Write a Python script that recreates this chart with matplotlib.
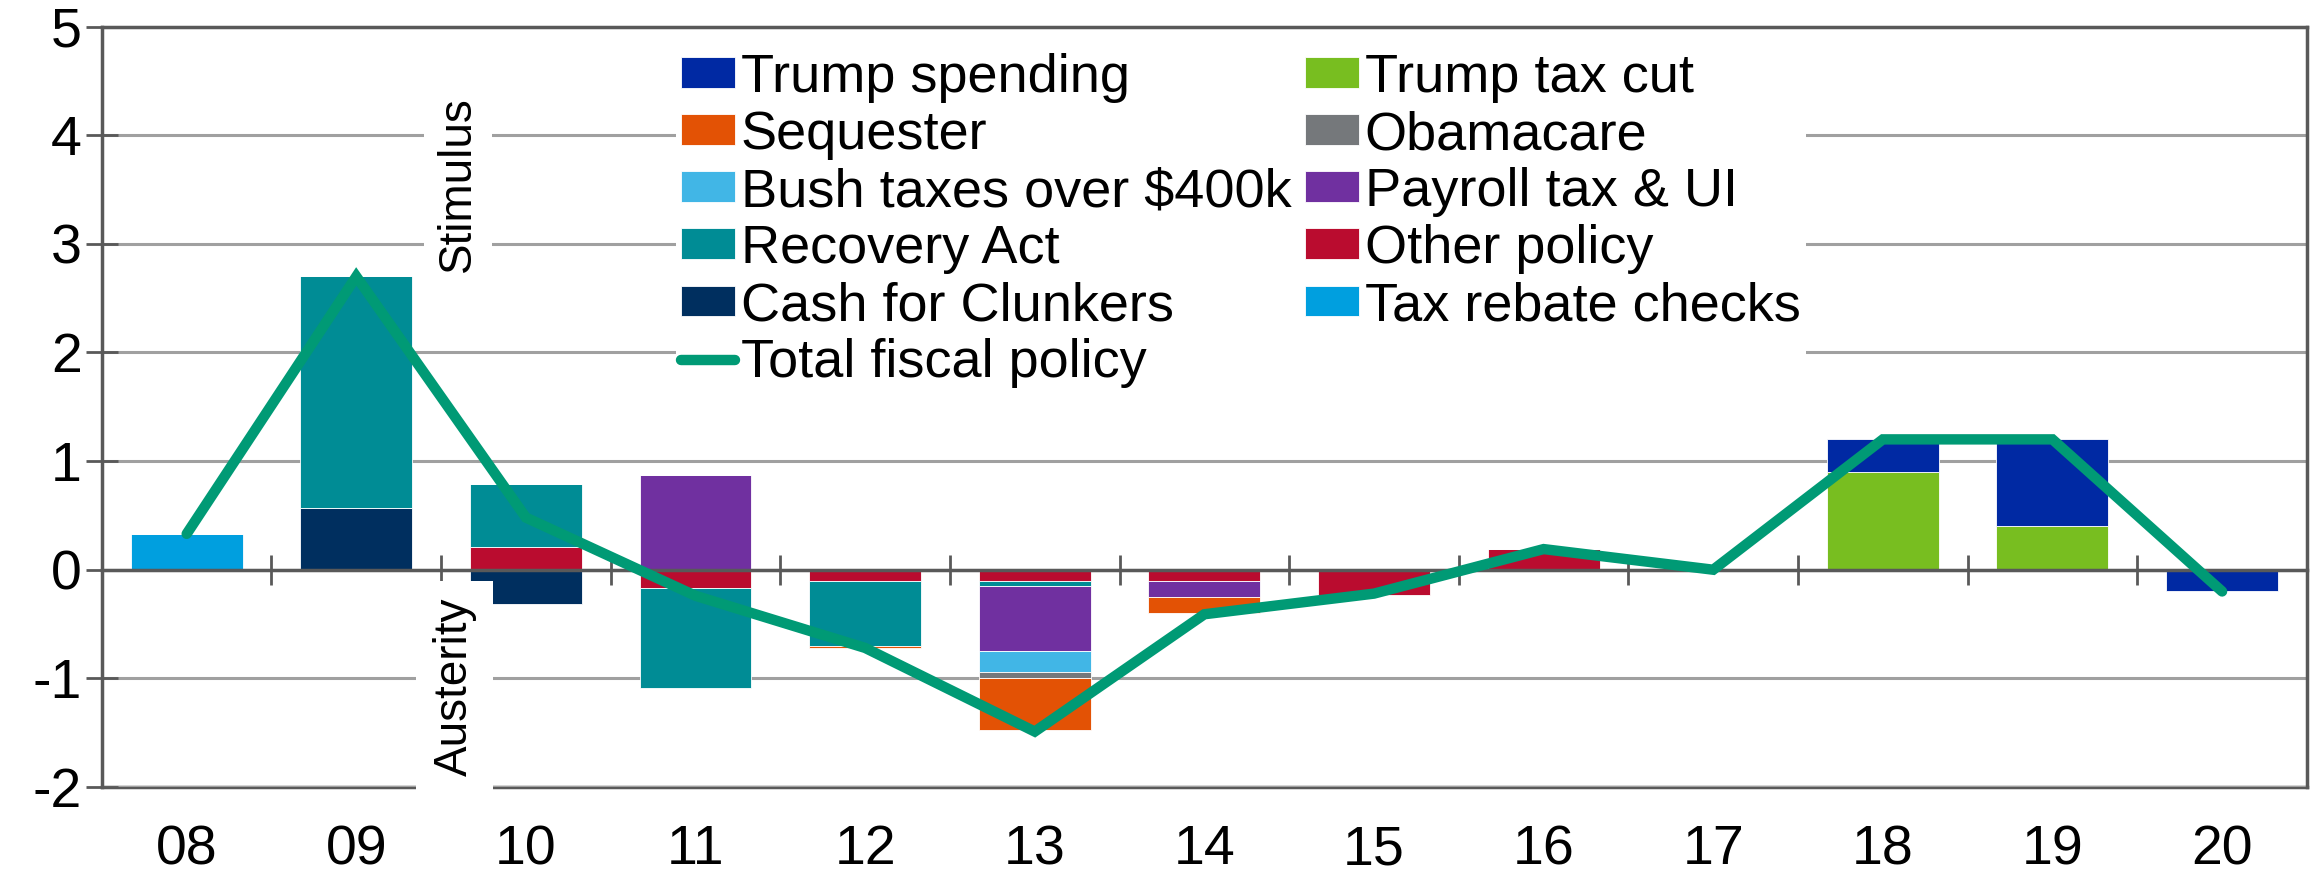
import matplotlib.pyplot as plt
import numpy as np

plt.rcParams['font.family'] = ['Liberation Sans', 'DejaVu Sans']
plt.rcParams['axes.unicode_minus'] = False

years = ['08', '09', '10', '11', '12', '13', '14', '15', '16', '17', '18', '19', '20']

# contribution to growth, percentage points
tax_rebate = [0.33, 0, 0, 0, 0, 0, 0, 0, 0, 0, 0, 0, 0]
cash_clunkers = [0, 0.57, -0.32, 0, 0, 0, 0, 0, 0, 0, 0, 0, 0]
other_policy = [0, 0, 0.21, -0.17, -0.10, -0.10, -0.10, -0.23, 0.19, 0, 0, 0, 0]
recovery_act = [0, 2.13, 0.58, -0.92, -0.60, -0.05, 0, 0, 0, 0, 0, 0, 0]
payroll_ui = [0, 0, 0, 0.87, 0, -0.60, -0.15, 0, 0, 0, 0, 0, 0]
bush_taxes = [0, 0, 0, 0, 0, -0.19, 0, 0, 0, 0, 0, 0, 0]
obamacare = [0, 0, 0, 0, 0, -0.06, 0, 0, 0, 0, 0, 0, 0]
sequester = [0, 0, 0, 0, -0.02, -0.48, -0.15, 0, 0, 0, 0, 0, 0]
trump_tax_cut = [0, 0, 0, 0, 0, 0, 0, 0, 0, 0, 0.90, 0.40, 0]
trump_spending = [0, 0, 0, 0, 0, 0, 0, 0, 0, 0, 0.30, 0.80, -0.20]
total = [0.33, 2.70, 0.48, -0.24, -0.72, -1.49, -0.41, -0.22, 0.19, 0.0, 1.20, 1.20, -0.20]

# stacking order from zero outward
series = [
    ('Tax rebate checks', tax_rebate, '#009FDF'),
    ('Cash for Clunkers', cash_clunkers, '#002F5F'),
    ('Other policy', other_policy, '#BA0C2F'),
    ('Recovery Act', recovery_act, '#008C95'),
    ('Payroll tax & UI', payroll_ui, '#7030A0'),
    ('Bush taxes over $400k', bush_taxes, '#41B6E6'),
    ('Obamacare', obamacare, '#75787B'),
    ('Sequester', sequester, '#E35205'),
    ('Trump tax cut', trump_tax_cut, '#78BE20'),
    ('Trump spending', trump_spending, '#0029A3'),
]
legend_order = ['Trump spending', 'Sequester', 'Bush taxes over $400k', 'Recovery Act',
                'Cash for Clunkers', 'Total fiscal policy', 'Trump tax cut', 'Obamacare',
                'Payroll tax & UI', 'Other policy', 'Tax rebate checks']

dark = '#595959'
fig = plt.figure(figsize=(23.15, 8.75), dpi=100)
ax = fig.add_subplot(111)
fig.subplots_adjust(left=0.044, right=0.9965, top=0.9696, bottom=0.1006)

x = np.arange(len(years))
pos = np.zeros(len(years))
neg = np.zeros(len(years))
handles = {}
for name, vals, col in series:
    v = np.array(vals, dtype=float)
    bottom = np.where(v >= 0, pos, neg)
    b = ax.bar(x, v, 0.66, bottom=bottom, color=col, edgecolor='white', linewidth=0.6, label=name, zorder=1)
    handles[name] = b
    pos = pos + np.where(v > 0, v, 0)
    neg = neg + np.where(v < 0, v, 0)

ln, = ax.plot(x, total, color='#009A75', lw=7.5, solid_capstyle='round', solid_joinstyle='miter',
              label='Total fiscal policy', zorder=4)
handles['Total fiscal policy'] = ln

ax.set_xlim(-0.5, 12.5)
ax.set_ylim(-2, 5)
ax.set_axisbelow(True)
ax.set_yticks(range(-2, 6))
ax.yaxis.grid(True, color='#A0A0A0', lw=2.2)
ax.tick_params(axis='y', direction='inout', length=23, width=2, color=dark, labelsize=40, pad=3)

# zero line with category separators
ax.spines['bottom'].set_position(('data', 0))
ax.set_xticks(np.arange(0.5, 12, 1))
ax.tick_params(axis='x', direction='inout', length=22, width=2, color=dark, labelbottom=False)
for s in ax.spines.values():
    s.set_color(dark)
    s.set_linewidth(2.5)

sec = ax.secondary_xaxis('bottom')
sec.set_xticks(x, labels=years)
sec.tick_params(length=0, labelsize=40, pad=27)
sec.spines['bottom'].set_color(dark)
sec.spines['bottom'].set_linewidth(2.5)

ax.text(1.6, 3.55, 'Stimulus', rotation=90, ha='center', va='center', fontsize=33,
        bbox=dict(facecolor='white', edgecolor='none', pad=9), zorder=10)
ax.text(1.58, -1.08, 'Austerity', rotation=90, ha='center', va='center', fontsize=33,
        bbox=dict(facecolor='white', edgecolor='none', pad=12), zorder=10)

leg = ax.legend([handles[n] for n in legend_order], legend_order, ncol=2, loc='upper left',
                bbox_to_anchor=(0.248, 1.008), fontsize=39, frameon=True, fancybox=False,
                facecolor='white', edgecolor='none', framealpha=1, handlelength=1.0,
                handleheight=0.5, handletextpad=0.1, columnspacing=0.25, labelspacing=0.13,
                borderpad=0.1)
leg.set_zorder(2)

fig.savefig('out.png', dpi=100)
